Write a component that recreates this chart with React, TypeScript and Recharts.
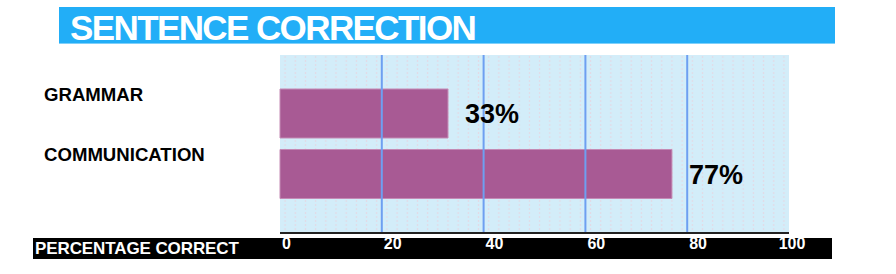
import { BarChart, Bar, XAxis, YAxis, CartesianGrid, ReferenceLine, LabelList } from "recharts";

const categories = ["GRAMMAR", "COMMUNICATION"];
const percentCorrect = [33, 77];
const xTicks = [0, 20, 40, 60, 80, 100];
const gridValues = [20, 40, 60, 80];

const data = categories.map((name, i) => ({ name, value: percentCorrect[i] }));

const FONT = "'Liberation Sans', Arial, Helvetica, sans-serif";

const CategoryTick = ({ y, payload }: any) => (
  <text
    x={44}
    y={y - 19}
    dominantBaseline="central"
    fontFamily={FONT}
    fontWeight="bold"
    fontSize={18.6}
    fill="#000"
  >
    {payload.value}
  </text>
);

const PercentTick = ({ x, y, payload, index }: any) => {
  const last = index === xTicks.length - 1;
  return (
    <text
      x={x + (last ? 3 : 2)}
      y={y}
      dy={16}
      textAnchor={last ? "middle" : "start"}
      fontFamily={FONT}
      fontWeight="bold"
      fontSize={16}
      fill="#fff"
    >
      {payload.value}
    </text>
  );
};

const App = () => {
  return (
    <div style={{ position: "absolute", left: 0, top: 0, width: 896, height: 274, background: "#fff" }}>
      <div
        style={{
          position: "absolute",
          left: 59,
          top: 7,
          width: 776,
          height: 37,
          background: "#22AEF7",
          borderBottom: "1px solid #7FD0FA",
          boxSizing: "border-box",
        }}
      >
        <span
          style={{
            position: "absolute",
            left: 11,
            top: 3,
            fontFamily: FONT,
            fontWeight: "bold",
            fontSize: 35,
            letterSpacing: -1.6,
            color: "#fff",
            lineHeight: "36px",
          }}
        >
          SENTENCE CORRECTION
        </span>
      </div>
      <div
        style={{
          position: "absolute",
          left: 33,
          top: 238,
          width: 799,
          height: 21,
          background: "#000",
        }}
      >
        <span
          style={{
            position: "absolute",
            left: 2,
            top: 1,
            fontFamily: FONT,
            fontWeight: "bold",
            fontSize: 17,
            letterSpacing: -0.1,
            color: "#fff",
            lineHeight: "20px",
          }}
        >
          PERCENTAGE CORRECT
        </span>
      </div>
      <div style={{ position: "absolute", left: 0, top: 0 }}>
        <BarChart
          width={896}
          height={274}
          data={data}
          layout="vertical"
          margin={{ top: 55, right: 107, bottom: 0, left: 0 }}
        >
          <defs>
            <pattern id="dots" x={280} y={55} width={10.18} height={4} patternUnits="userSpaceOnUse">
              <rect x={0} y={0} width={10.18} height={4} fill="#D3EDF9" />
              <rect x={4.5} y={1} width={1.2} height={2} fill="#E2DAE6" />
            </pattern>
          </defs>
          <CartesianGrid horizontal={false} vertical={false} fill="url(#dots)" fillOpacity={1} />
          {gridValues.map((v) => (
            <ReferenceLine key={v} x={v} stroke="#6E9FF1" strokeWidth={2} />
          ))}
          <XAxis
            type="number"
            domain={[0, 100]}
            ticks={xTicks}
            interval={0}
            height={41}
            tickLine={false}
            tickSize={0}
            tickMargin={0}
            axisLine={{ stroke: "#222", strokeWidth: 2 }}
            tick={<PercentTick />}
          />
          <YAxis
            type="category"
            dataKey="name"
            width={280}
            axisLine={false}
            tickLine={false}
            padding={{ top: 28, bottom: 29 }}
            tick={<CategoryTick />}
          />
          <Bar dataKey="value" fill="#A85A94" stroke="#C48BB5" strokeWidth={1} barSize={49} isAnimationActive={false}>
            <LabelList
              dataKey="value"
              position="right"
              offset={17}
              formatter={(v: any) => `${v}%`}
              fill="#000"
              fontFamily={FONT}
              fontWeight="bold"
              fontSize={27}
            />
          </Bar>
        </BarChart>
      </div>
    </div>
  );
};

export default App;
